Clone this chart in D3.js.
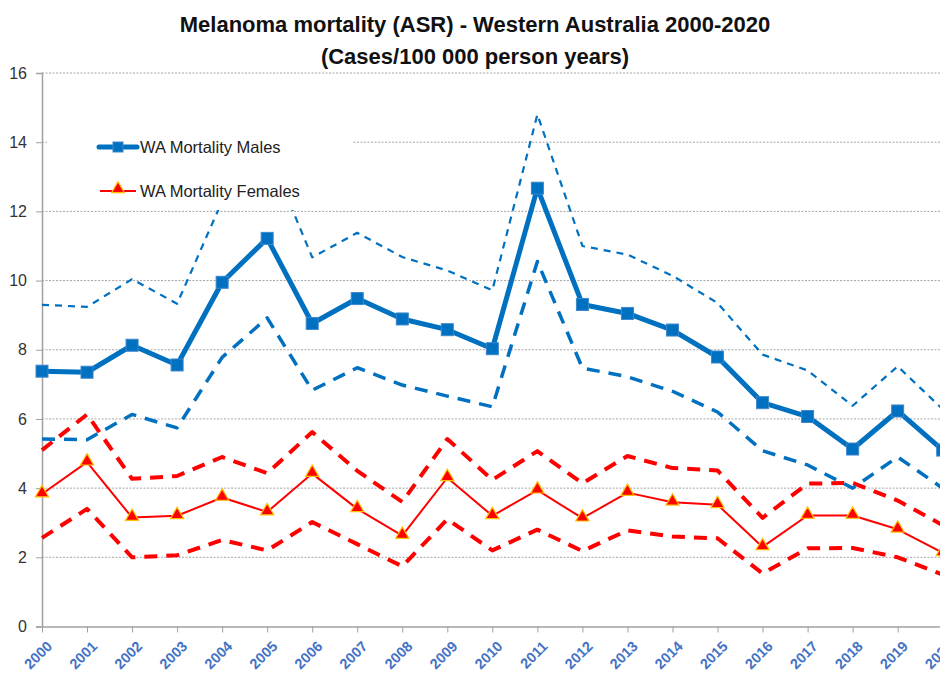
<!DOCTYPE html>
<html>
<head>
<meta charset="utf-8">
<script src="https://cdn.jsdelivr.net/npm/d3@7"></script>
<style>
  body { margin: 0; background: #fff; }
  svg { display: block; font-family: "Liberation Sans", Arial, sans-serif; }
</style>
</head>
<body>
<div id="chart"></div>
<script>
var years = [2000, 2001, 2002, 2003, 2004, 2005, 2006, 2007, 2008, 2009, 2010,
             2011, 2012, 2013, 2014, 2015, 2016, 2017, 2018, 2019, 2020];

var males      = [7.38, 7.35, 8.13, 7.56, 9.95, 11.22, 8.76, 9.48, 8.89, 8.58, 8.03,
                  12.67, 9.31, 9.05, 8.57, 7.79, 6.47, 6.07, 5.13, 6.23, 5.1];
var malesUpper = [9.3, 9.24, 10.04, 9.33, 12.3, 13.8, 10.67, 11.38, 10.68, 10.29, 9.72,
                  14.8, 11.0, 10.75, 10.14, 9.35, 7.86, 7.4, 6.38, 7.52, 6.28];
var malesLower = [5.42, 5.4, 6.13, 5.74, 7.78, 8.92, 6.83, 7.48, 6.98, 6.66, 6.35,
                  10.55, 7.47, 7.22, 6.8, 6.2, 5.08, 4.67, 4.0, 4.9, 4.0];

var females      = [3.83, 4.75, 3.15, 3.2, 3.73, 3.31, 4.42, 3.4, 2.63, 4.3, 3.2,
                    3.94, 3.13, 3.87, 3.59, 3.52, 2.3, 3.21, 3.21, 2.81, 2.13];
var femalesUpper = [5.1, 6.13, 4.27, 4.35, 4.9, 4.43, 5.62, 4.5, 3.6, 5.42, 4.24,
                    5.07, 4.14, 4.93, 4.58, 4.51, 3.14, 4.13, 4.15, 3.64, 2.93];
var femalesLower = [2.56, 3.4, 2.0, 2.06, 2.5, 2.2, 3.02, 2.38, 1.74, 3.1, 2.2,
                    2.8, 2.18, 2.78, 2.6, 2.55, 1.53, 2.26, 2.27, 2.0, 1.5];

var yTicks = [0, 2, 4, 6, 8, 10, 12, 14, 16];

var width = 940, height = 673;
var blue = '#0070C0', red = '#FF0000';

var svg = d3.select('#chart').append('svg')
    .attr('width', width)
    .attr('height', height);

var x = d3.scalePoint().domain(years).range([42, 942.7]);
var y = d3.scaleLinear().domain([0, 16]).range([626.5, 73]);

// title
svg.append('text')
    .attr('x', 475).attr('y', 32)
    .attr('text-anchor', 'middle')
    .style('font-size', '22px').style('font-weight', 'bold').style('fill', '#111')
    .text('Melanoma mortality (ASR) - Western Australia 2000-2020');
svg.append('text')
    .attr('x', 475).attr('y', 64)
    .attr('text-anchor', 'middle')
    .style('font-size', '22px').style('font-weight', 'bold').style('fill', '#111')
    .text('(Cases/100 000 person years)');

// gridlines
svg.append('g').selectAll('line').data(yTicks.filter(function(d) { return d > 0; }))
  .enter().append('line')
    .attr('x1', 42).attr('x2', width)
    .attr('y1', function(d) { return y(d); })
    .attr('y2', function(d) { return y(d); })
    .style('stroke', '#a6a6a6')
    .style('stroke-dasharray', '2,1.5')
    .style('stroke-width', 1);

// y axis
var yAxis = svg.append('g')
    .attr('transform', 'translate(42,0)')
    .call(d3.axisLeft(y).tickValues(yTicks).tickSize(6).tickPadding(9));
yAxis.select('.domain').style('stroke', '#a0a0a0').style('stroke-width', 1.5);
yAxis.selectAll('.tick line').style('stroke', '#a0a0a0');
yAxis.selectAll('text')
    .style('font-size', '16px').style('fill', '#333')
    .style('font-family', '"Liberation Sans", Arial, sans-serif');

// x axis
var xAxis = svg.append('g')
    .attr('transform', 'translate(0,' + y(0) + ')')
    .call(d3.axisBottom(x).tickSize(6).tickSizeOuter(0));
xAxis.select('.domain').style('stroke', '#a0a0a0').style('stroke-width', 1.5);
xAxis.selectAll('.tick line').style('stroke', '#a0a0a0');
xAxis.selectAll('text')
    .attr('transform', 'translate(3,13) rotate(-45)')
    .attr('text-anchor', 'end')
    .attr('dy', '0.75em')
    .attr('y', 0).attr('x', 0)
    .style('font-size', '14.5px').style('font-weight', 'bold')
    .style('fill', '#4472C4')
    .style('font-family', '"Liberation Sans", Arial, sans-serif');

var line = d3.line()
    .x(function(d, i) { return x(years[i]); })
    .y(function(d) { return y(d); });

function drawLine(data, color, w, dash) {
  svg.append('path')
      .datum(data)
      .attr('d', line)
      .style('fill', 'none')
      .style('stroke', color)
      .style('stroke-width', w)
      .style('stroke-dasharray', dash || null)
      .style('stroke-linejoin', 'round');
}

drawLine(femalesUpper, red, 4, '13,9');
drawLine(femalesLower, red, 4, '13,9');
drawLine(malesUpper, blue, 2.2, '7,6');
drawLine(malesLower, blue, 3.5, '13,9');
drawLine(females, red, 2);
drawLine(males, blue, 5);

var tri = d3.symbol().type(d3.symbolTriangle).size(75);

svg.append('g').selectAll('path').data(females)
  .enter().append('path')
    .attr('d', tri)
    .attr('transform', function(d, i) { return 'translate(' + x(years[i]) + ',' + (y(d) - 1) + ')'; })
    .style('fill', red)
    .style('stroke', '#FFC000')
    .style('stroke-width', 1.2);

svg.append('g').selectAll('rect').data(males)
  .enter().append('rect')
    .attr('x', function(d, i) { return x(years[i]) - 6; })
    .attr('y', function(d) { return y(d) - 6; })
    .attr('width', 12).attr('height', 12)
    .style('fill', blue)
    .style('stroke', '#3c87cc')
    .style('stroke-width', 1);

// legend
var legend = svg.append('g');
legend.append('rect')
    .attr('x', 47).attr('y', 100)
    .attr('width', 306).attr('height', 110)
    .style('fill', '#fff');

legend.append('line')
    .attr('x1', 99).attr('x2', 137).attr('y1', 147).attr('y2', 147)
    .style('stroke', blue).style('stroke-width', 5).style('stroke-linecap', 'round');
legend.append('rect')
    .attr('x', 113).attr('y', 142).attr('width', 10).attr('height', 10)
    .style('fill', blue).style('stroke', '#3c87cc');
legend.append('text')
    .attr('x', 140).attr('y', 153)
    .style('font-size', '16.5px').style('fill', '#222')
    .text('WA Mortality Males');

legend.append('line')
    .attr('x1', 100).attr('x2', 136).attr('y1', 191).attr('y2', 191)
    .style('stroke', red).style('stroke-width', 2.2);
legend.append('path')
    .attr('d', d3.symbol().type(d3.symbolTriangle).size(70))
    .attr('transform', 'translate(118,189)')
    .style('fill', red).style('stroke', '#FFC000').style('stroke-width', 1.2);
legend.append('text')
    .attr('x', 140).attr('y', 197)
    .style('font-size', '16.5px').style('fill', '#222')
    .text('WA Mortality Females');
</script>
</body>
</html>
